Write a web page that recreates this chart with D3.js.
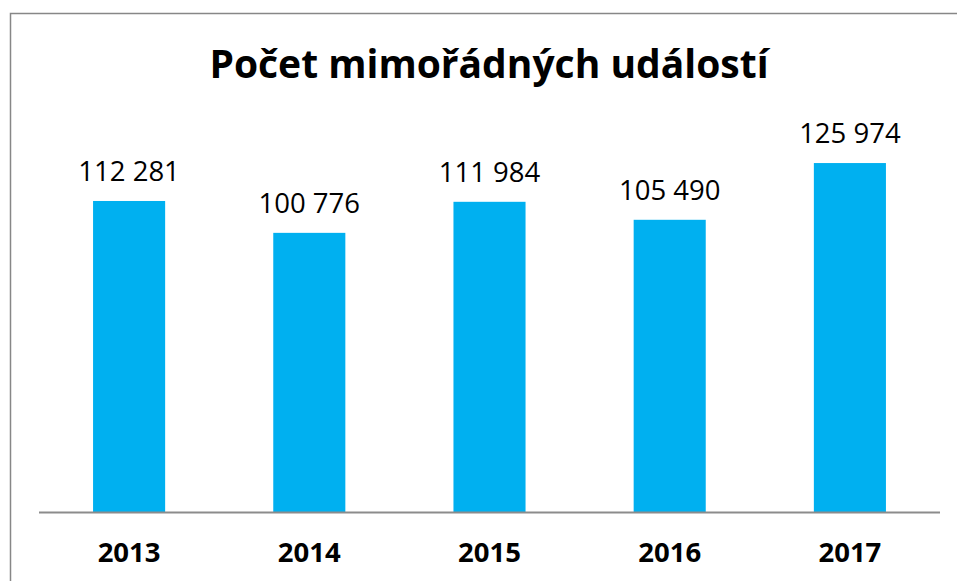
<!DOCTYPE html>
<html>
<head>
<meta charset="utf-8">
<script src="https://cdn.jsdelivr.net/npm/d3@7"></script>
<style>
  body { margin: 0; background: #fff; }
  svg { display: block; }
</style>
</head>
<body>
<svg id="chart" width="957" height="581"></svg>
<script>
const years = ["2013", "2014", "2015", "2016", "2017"]
const counts = [112281, 100776, 111984, 105490, 125974]
const yDomain = [0, 140000]
const title = "Počet mimořádných událostí"

const width = 957, height = 581
const svg = d3.select("#chart")
const font = "'Open Sans', sans-serif"

// frame of the chart, runs past the right and bottom edges
svg.append("rect")
    .attr("x", 10.5).attr("y", 13.5)
    .attr("width", 980).attr("height", 620)
    .attr("fill", "#fff")
    .attr("stroke", "#878787")
    .attr("stroke-width", 1.5)

const x = d3.scaleBand()
    .domain(years)
    .range([39, 940])
    .paddingInner(0.6)
    .paddingOuter(0.3)

const y = d3.scaleLinear()
    .domain(yDomain)
    .range([512, 124.2])

const fmt = d3.formatLocale({decimal: ",", thousands: " ", grouping: [3], currency: ["", ""]}).format(",d")

const data = years.map((yr, i) => ({year: yr, value: counts[i]}))

svg.append("text")
    .attr("x", 489)
    .attr("y", 78)
    .attr("text-anchor", "middle")
    .attr("font-family", font)
    .attr("font-weight", "bold")
    .attr("font-size", 39)
    .attr("fill", "#000")
    .text(title)

svg.append("g").selectAll("rect")
  .data(data).enter().append("rect")
    .attr("x", d => x(d.year))
    .attr("y", d => y(d.value))
    .attr("width", x.bandwidth())
    .attr("height", d => y(0) - y(d.value))
    .attr("fill", "#00B0F0")

svg.append("g").selectAll("text")
  .data(data).enter().append("text")
    .attr("x", d => x(d.year) + x.bandwidth() / 2)
    .attr("y", d => y(d.value) - 20)
    .attr("text-anchor", "middle")
    .attr("font-family", font)
    .attr("font-size", 27.5)
    .attr("fill", "#000")
    .text(d => fmt(d.value))

// x axis
const xAxis = svg.append("g")
    .attr("transform", "translate(0," + y(0) + ")")
    .call(d3.axisBottom(x).tickSize(0).tickPadding(0))

xAxis.select(".domain")
    .attr("d", "M39,0.5H940")
    .attr("stroke", "#8c8c8c")
    .attr("stroke-width", 2)

xAxis.selectAll(".tick text")
    .attr("dy", null)
    .attr("y", 50)
    .attr("font-family", font)
    .attr("font-weight", "bold")
    .attr("font-size", 27.5)
    .attr("fill", "#000")
</script>
</body>
</html>
